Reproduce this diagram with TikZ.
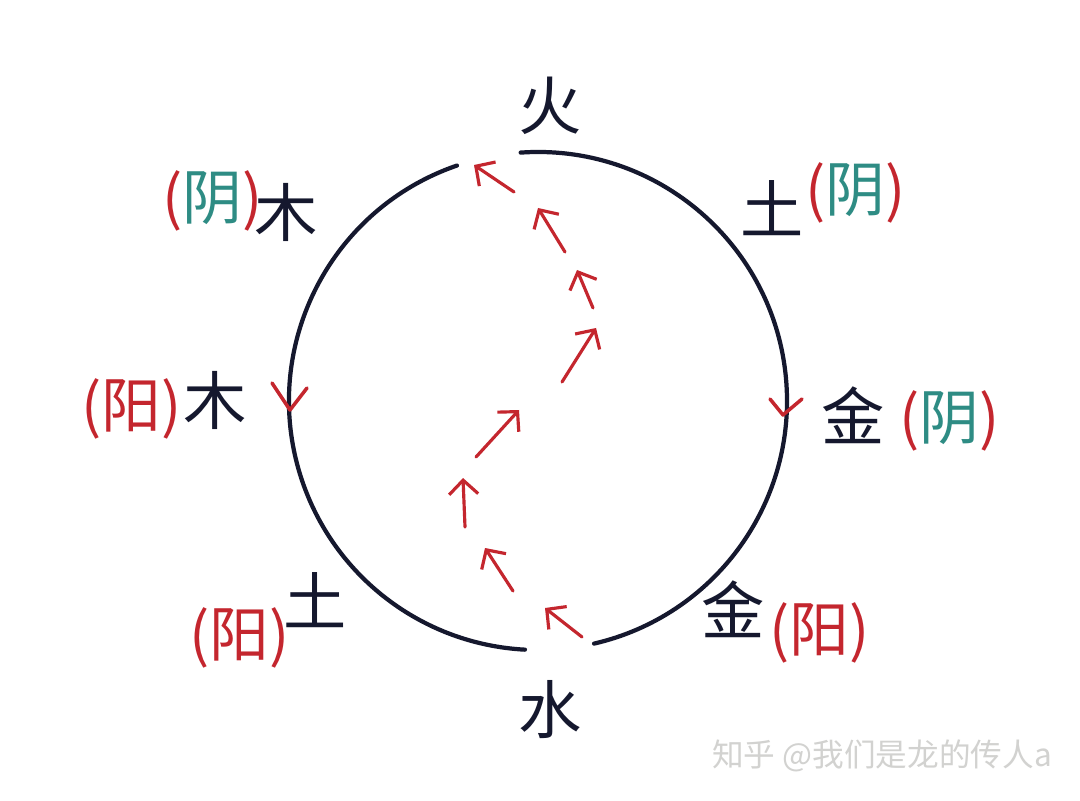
\documentclass[tikz,border=0pt]{standalone}
\usepackage{fontspec}
\newfontfamily\cjk{Noto Sans CJK SC}
\usepackage{xcolor}
\usepackage{tikz}
\usetikzlibrary{arrows.meta,positioning}
\definecolor{ink}{HTML}{15182E}
\definecolor{penred}{HTML}{C4262E}
\definecolor{penteal}{HTML}{2E8C84}
\definecolor{markgray}{HTML}{D2D2D0}
\newcommand\yinlbl{\textcolor{penred}{(}\textcolor{penteal}{阴}\textcolor{penred}{)}}
\newcommand\yanglbl{\textcolor{penred}{(阳)}}

\begin{document}
\begin{tikzpicture}[x=0.01cm,y=0.01cm,font=\cjk,
   el/.style={text=ink,inner sep=0pt,font=\cjk\fontsize{18}{20}\selectfont},
   yy/.style={inner sep=0pt,font=\cjk\fontsize{17}{20}\selectfont},
   ring/.style={draw=ink,line width=1.2pt,line cap=round},
   flow/.style={draw=penred,line width=0.9pt,line cap=round,
                -{Straight Barb[length=1.4mm,width=2.9mm]}},
   tick/.style={draw=penred,line width=1pt,line cap=round,line join=round}]
  \fill[white] (0,0) rectangle (1080,800);
  \coordinate (c) at (538,399);
  % ring, open at top and bottom
  \draw[ring] (c) ++(109:249) arc[start angle=109,end angle=267,radius=249];
  \draw[ring] (c) ++(94:249) arc[start angle=94,end angle=-77,radius=249];
  \draw[tick] (272,417) -- (290,390) -- (307,412);
  \draw[tick] (770,401) -- (783,385) -- (802,401);
  % the S-shaped path up the middle
  \foreach \i/\x/\y/\u/\v in {1/582/163/545/192, 2/513/209/485/252,
      3/465/273/463/322, 4/476/343/519/390, 5/562/418/596/472,
      6/593/492/577/530, 7/565/548/538/592, 8/514/608/474/635} {
    \coordinate (f\i a) at (\x,\y);
    \coordinate (f\i b) at (\u,\v);
    \draw[flow] (f\i a) -- (f\i b);
  }
  % labels
  \node[el] (huo) at (550,694) {火};
  \node[el] (tu1) at (772,592) {土};
  \node[yy,right=0pt of tu1,yshift=1.5mm] (tu1y) {\yinlbl};
  \node[el] (mu1) at (286,588) {木};
  \node[yy,left=-1mm of mu1,yshift=1.1mm] (mu1y) {\yinlbl};
  \node[el] (mu2) at (215,400) {木};
  \node[yy,left=0pt of mu2,yshift=-0.9mm] (mu2y) {\yanglbl};
  \node[el] (jin1) at (853,385) {金};
  \node[yy,right=1.3mm of jin1,yshift=-0.6mm] (jin1y) {\yinlbl};
  \node[el] (tu2) at (315,200) {土};
  \node[yy,left=-0.8mm of tu2,yshift=-3.8mm] (tu2y) {\yanglbl};
  \node[el] (jin2) at (733,191) {金};
  \node[yy,right=0.3mm of jin2,yshift=-2.4mm] (jin2y) {\yanglbl};
  \node[el] (shui) at (550,90) {水};
  \node[text=markgray,font=\cjk\fontsize{9}{10}\selectfont] (mark) at (882,44)
       {知乎 @我们是龙的传人a};
\end{tikzpicture}
\end{document}
